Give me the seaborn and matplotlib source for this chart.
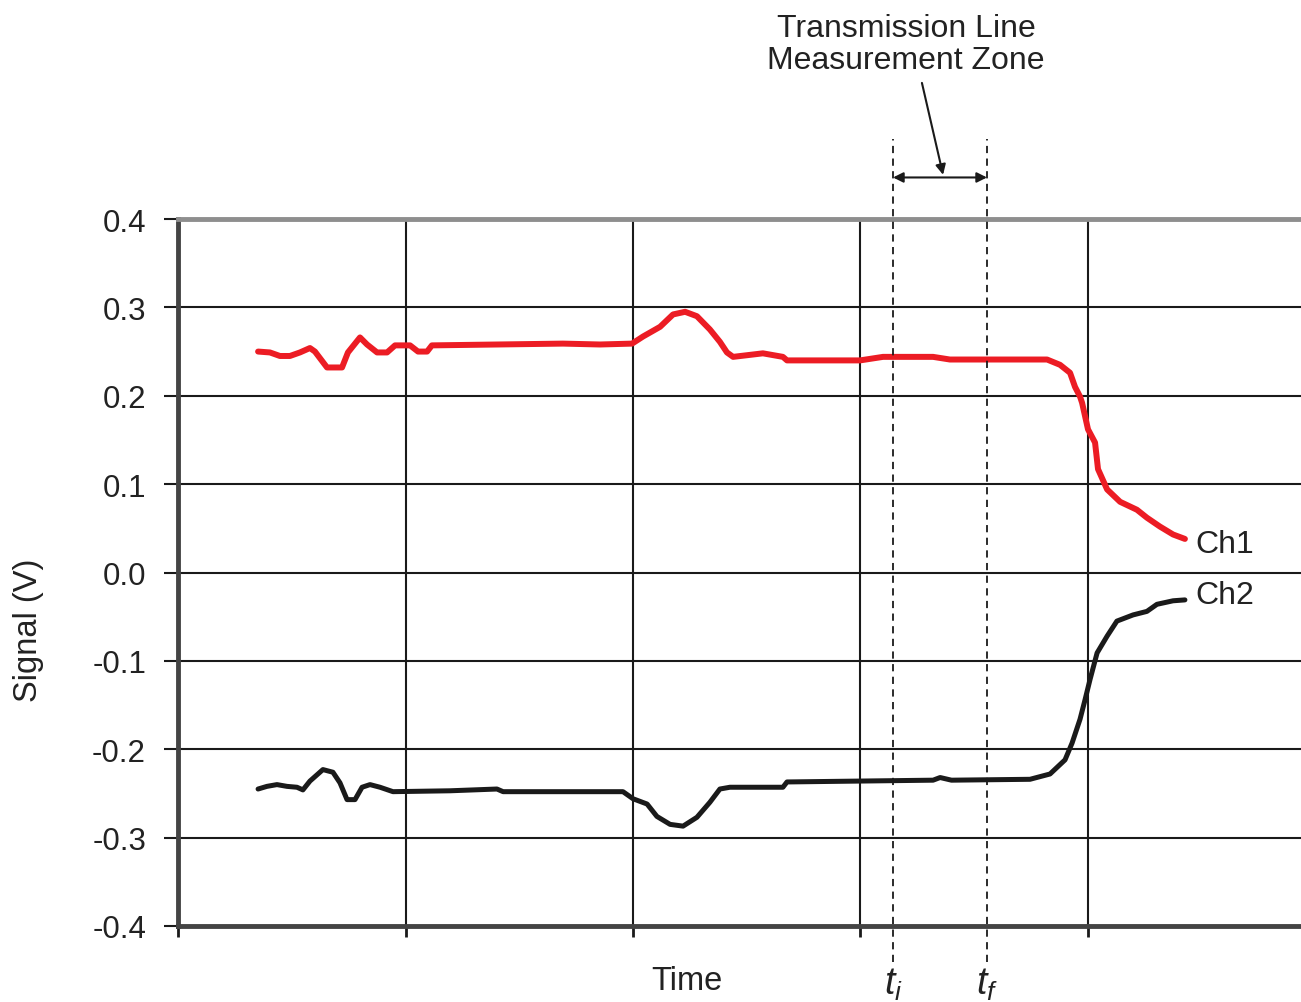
import matplotlib
matplotlib.use("Agg")
import matplotlib.pyplot as plt
import seaborn as sns
import pandas as pd

# ---- data (time in grid units, signal in V) ----
ch1_t = [0.352, 0.404, 0.448, 0.492, 0.536, 0.580, 0.602, 0.655, 0.721, 0.747, 0.800, 0.831,
         0.875, 0.919, 0.954, 1.020, 1.055, 1.095, 1.116, 1.692, 1.855, 1.996, 2.044, 2.119,
         2.176, 2.229, 2.281, 2.338, 2.382, 2.413, 2.440, 2.571, 2.659, 2.677, 2.998, 3.099,
         3.319, 3.393, 3.556, 3.820, 3.877, 3.921, 3.943, 3.965, 3.974, 4.000, 4.031, 4.044,
         4.084, 4.141, 4.215, 4.259, 4.316, 4.374, 4.426]
ch1_v = [0.250, 0.249, 0.245, 0.245, 0.249, 0.254, 0.250, 0.232, 0.232, 0.249, 0.266, 0.258,
         0.249, 0.249, 0.257, 0.257, 0.250, 0.250, 0.257, 0.259, 0.258, 0.259, 0.267, 0.278,
         0.292, 0.295, 0.290, 0.275, 0.261, 0.249, 0.244, 0.248, 0.244, 0.240, 0.240, 0.244,
         0.244, 0.241, 0.241, 0.241, 0.235, 0.226, 0.210, 0.199, 0.192, 0.162, 0.147, 0.117,
         0.094, 0.080, 0.071, 0.062, 0.052, 0.043, 0.038]

ch2_t = [0.352, 0.391, 0.435, 0.479, 0.523, 0.549, 0.580, 0.637, 0.681, 0.712, 0.743, 0.778,
         0.809, 0.844, 0.888, 0.945, 1.196, 1.402, 1.429, 1.956, 2.000, 2.062, 2.105, 2.163,
         2.220, 2.281, 2.338, 2.382, 2.426, 2.659, 2.677, 3.319, 3.350, 3.400, 3.745, 3.833,
         3.899, 3.930, 3.965, 3.987, 4.009, 4.040, 4.084, 4.127, 4.198, 4.259, 4.303, 4.374,
         4.426]
ch2_v = [-0.245, -0.242, -0.240, -0.242, -0.243, -0.246, -0.236, -0.223, -0.226, -0.238, -0.257,
         -0.257, -0.243, -0.240, -0.243, -0.248, -0.247, -0.245, -0.248, -0.248, -0.256, -0.262,
         -0.276, -0.285, -0.287, -0.277, -0.260, -0.245, -0.243, -0.243, -0.237, -0.235, -0.232,
         -0.235, -0.234, -0.228, -0.212, -0.193, -0.166, -0.144, -0.121, -0.091, -0.072, -0.055,
         -0.048, -0.044, -0.036, -0.032, -0.031]

y_ticks = [-0.4, -0.3, -0.2, -0.1, 0.0, 0.1, 0.2, 0.3, 0.4]
y_tick_labels = ["-0.4", "-0.3", "-0.2", "-0.1", "0.0", "0.1", "0.2", "0.3", "0.4"]
x_ticks = [0, 1, 2, 3, 4]
t_i = 3.143
t_f = 3.556

sns.set_style("white")
plt.rcParams['font.family'] = ['Liberation Sans', 'DejaVu Sans']
plt.rcParams['mathtext.fontset'] = 'custom'
plt.rcParams['mathtext.it'] = 'Liberation Sans:italic'
plt.rcParams['mathtext.rm'] = 'Liberation Sans'

txt = '#222222'
fig = plt.figure(figsize=(13.01, 10.03), dpi=100)
ax = fig.add_axes([178/1301, 1-927/1003, 1-178/1301, (927-220)/1003])

df1 = pd.DataFrame({'t': ch1_t, 'v': ch1_v})
df2 = pd.DataFrame({'t': ch2_t, 'v': ch2_v})
sns.lineplot(data=df1, x='t', y='v', ax=ax, color='#ec1c24', lw=4.3, sort=False,
             estimator=None, solid_capstyle='round', zorder=3)
sns.lineplot(data=df2, x='t', y='v', ax=ax, color='#1a1a1a', lw=3.6, sort=False,
             estimator=None, solid_capstyle='round', zorder=3)

ax.set_xlim(0, 1123/227.5)
ax.set_ylim(-0.4, 0.4)
ax.set_yticks(y_ticks)
ax.set_yticklabels(y_tick_labels, fontsize=22.5, color=txt)
ax.set_xticks(x_ticks)
ax.set_xticklabels([])
ax.set_xlabel('')
ax.set_ylabel('')
ax.grid(True, color='#1a1a1a', lw=1.5)
ax.set_axisbelow(True)
ax.tick_params(axis='y', direction='out', length=10, width=1.5, color='#1a1a1a', pad=13, left=True)
ax.tick_params(axis='x', direction='out', length=8, width=2, color='#1a1a1a', bottom=True)

ax.spines['right'].set_visible(False)
ax.spines['top'].set_color('#8e8e8e')
ax.spines['top'].set_linewidth(3.5)
ax.spines['bottom'].set_color('#444444')
ax.spines['bottom'].set_linewidth(3.5)
ax.spines['left'].set_color('#444444')
ax.spines['left'].set_linewidth(3.5)

# dashed zone lines
for tv in (t_i, t_f):
    ax.plot([tv, tv], [-0.441, 0.490], ls=(0, (4, 3)), color='#1a1a1a', lw=1.3,
            clip_on=False, zorder=4)
ax.annotate('', xy=(t_i, 0.447), xytext=(t_f, 0.447), xycoords='data',
            arrowprops=dict(arrowstyle='<|-|>', color='#1a1a1a', lw=1.5,
                            mutation_scale=15, shrinkA=0, shrinkB=0),
            annotation_clip=False)
ax.annotate('', xy=(3.363, 0.450), xytext=(3.270, 0.554), xycoords='data',
            arrowprops=dict(arrowstyle='-|>', color='#1a1a1a', lw=1.5,
                            mutation_scale=15, shrinkA=0, shrinkB=0),
            annotation_clip=False)

fig.text(906/1301, 1-45/1003, 'Transmission Line\nMeasurement Zone', ha='center', va='center',
         fontsize=23, color=txt, linespacing=1.1)
fig.text(687/1301, 1-982/1003, 'Time', ha='center', va='center', fontsize=23.5, color=txt)
fig.text(28/1301, 1-630/1003, 'Signal (V)', ha='center', va='center', rotation=90,
         fontsize=23.5, color=txt)
fig.text(893/1301, 1-985/1003, r'$t_i$', ha='center', va='center', fontsize=27, color=txt)
fig.text(987/1301, 1-985/1003, r'$t_f$', ha='center', va='center', fontsize=27, color=txt)

ax.text(4.470, 0.032, 'Ch1', ha='left', va='center', fontsize=23, color=txt)
ax.text(4.470, -0.026, 'Ch2', ha='left', va='center', fontsize=23, color=txt)

fig.savefig('out.png', dpi=100)
